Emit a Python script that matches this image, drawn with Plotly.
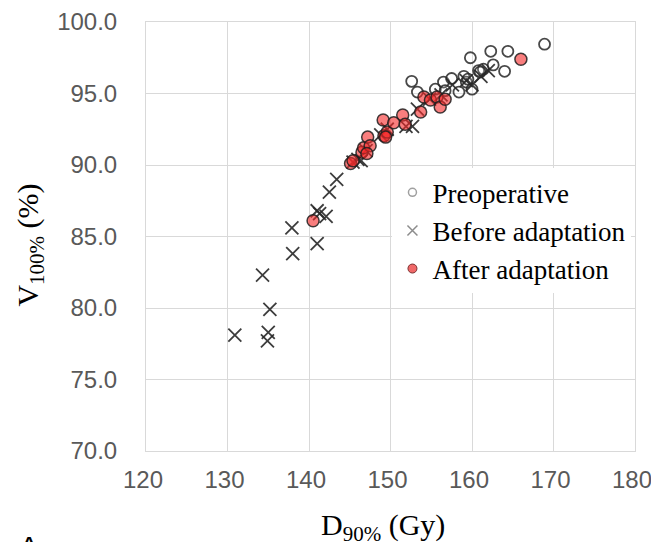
import plotly.graph_objects as go

# Preoperative
pre_x = [152.6, 153.3, 155.5, 156.5, 157.5, 158.4, 159.0, 159.3, 160.0, 159.8,
         160.8, 161.4, 162.3, 162.6, 164.0, 164.4, 168.9, 156.7, 159.5, 161.0]
pre_y = [95.85, 95.1, 95.3, 95.8, 96.05, 95.1, 96.2, 95.8, 95.3, 97.5,
         96.6, 96.7, 97.95, 97.0, 96.55, 97.95, 98.45, 95.2, 96.0, 96.5]

# Before adaptation
bef_x = [130.9, 135.0, 134.9, 135.2, 134.3, 138.0, 137.9, 141.0, 141.0, 141.3,
         142.1, 142.5, 143.4, 145.4, 146.0, 146.4, 147.0, 148.8, 149.6, 151.9,
         152.7, 153.3, 154.8, 156.2, 157.6, 159.3, 160.0, 161.1, 162.0]
bef_y = [78.1, 78.3, 77.7, 79.9, 82.3, 83.8, 85.6, 84.5, 86.8, 86.6,
         86.4, 88.1, 89.0, 90.2, 90.4, 90.3, 91.0, 92.1, 92.5, 92.7,
         92.7, 93.9, 94.6, 94.9, 95.6, 95.9, 95.6, 96.2, 96.6]

# After adaptation
aft_x = [140.5, 145.1, 145.4, 146.5, 146.7, 147.2, 147.5, 147.1, 149.1, 149.2,
         149.6, 150.4, 151.5, 151.8, 153.7, 154.1, 154.9, 155.7, 156.1, 156.7,
         166.0, 149.4]
aft_y = [86.1, 90.1, 90.3, 90.9, 91.2, 91.95, 91.35, 90.8, 93.15, 92.05,
         92.3, 92.95, 93.5, 92.85, 93.7, 94.75, 94.55, 94.75, 94.05, 94.6,
         97.4, 91.95]

x_ticks = [120, 130, 140, 150, 160, 170, 180]
y_ticks = [70, 75, 80, 85, 90, 95, 100]

names = ["Preoperative", "Before adaptation", "After adaptation"]

fig = go.Figure()

fig.add_trace(go.Scatter(
    x=pre_x, y=pre_y, mode="markers", name=names[0], showlegend=False,
    marker=dict(symbol="circle", size=11, color="rgba(255,255,255,0.15)",
                line=dict(color="rgba(40,40,40,0.85)", width=1.8))))
fig.add_trace(go.Scatter(
    x=bef_x, y=bef_y, mode="markers", name=names[1], showlegend=False,
    marker=dict(symbol="x-thin-open", size=13, color="rgba(40,40,40,0.9)",
                line=dict(color="rgba(40,40,40,0.9)", width=1.8))))
fig.add_trace(go.Scatter(
    x=aft_x, y=aft_y, mode="markers", name=names[2], showlegend=False,
    marker=dict(symbol="circle", size=12, color="rgba(245,40,40,0.6)",
                line=dict(color="rgba(30,30,30,0.85)", width=1.5))))

# legend entries (styled like the reference legend)
fig.add_trace(go.Scatter(
    x=[None], y=[None], mode="markers", name=names[0],
    marker=dict(symbol="circle", size=8, color="white",
                line=dict(color="#a0a0a0", width=1.5))))
fig.add_trace(go.Scatter(
    x=[None], y=[None], mode="markers", name=names[1],
    marker=dict(symbol="x-thin-open", size=10, color="#8c8c8c",
                line=dict(color="#8c8c8c", width=1.5))))
fig.add_trace(go.Scatter(
    x=[None], y=[None], mode="markers", name=names[2],
    marker=dict(symbol="circle", size=9, color="#f06868",
                line=dict(color="#7a3030", width=1))))

grid = "#d9d9d9"
tickfont = dict(family="Liberation Sans, Arial, sans-serif", size=24, color="#595959")

fig.update_layout(
    width=651, height=542,
    margin=dict(l=146, r=16, t=22, b=91),
    paper_bgcolor="white", plot_bgcolor="white",
    xaxis=dict(range=[120, 180], tickvals=x_ticks, ticktext=[str(v) for v in x_ticks],
               showgrid=True, gridcolor=grid, gridwidth=1, zeroline=False,
               showline=True, linecolor=grid, linewidth=1, mirror=True,
               automargin=False, ticklabeloverflow="allow",
               ticks="", tickfont=tickfont, ticklabelstandoff=7, ticklabelshift=-3),
    yaxis=dict(range=[70, 100], tickvals=y_ticks, ticktext=[f"{v:.1f}" for v in y_ticks],
               showgrid=True, gridcolor=grid, gridwidth=1, zeroline=False,
               showline=True, linecolor=grid, linewidth=1, mirror=True,
               automargin=False, ticklabeloverflow="allow",
               ticks="", tickfont=tickfont, ticklabelstandoff=23),
    legend=dict(x=0.504, y=0.659, xanchor="left", yanchor="top",
                bgcolor="white", borderwidth=0,
                font=dict(family="Liberation Serif, Times New Roman, serif", size=27, color="black"),
                itemsizing="trace"),
    showlegend=True,
)

titlefont = dict(family="Liberation Serif, Times New Roman, serif", size=30, color="black")
fig.add_annotation(text="D<sub>90%</sub> (Gy)", xref="paper", yref="paper",
                   x=0.4843, y=-0.178, xanchor="center", yanchor="middle",
                   showarrow=False, font=titlefont)
fig.add_annotation(text="V<sub>100%</sub> (%)", xref="paper", yref="paper",
                   x=-0.2366, y=0.4795, xanchor="center", yanchor="middle",
                   textangle=-90, showarrow=False, font=titlefont)
fig.add_annotation(text="A", xref="paper", yref="paper",
                   x=-0.24, y=-0.180, xanchor="center", yanchor="top",
                   showarrow=False,
                   font=dict(family="Liberation Sans, Arial, sans-serif", size=30, color="black"))

fig.write_html("out.html",
               config={"displayModeBar": False},
               post_script="document.body.style.margin='0';"
                           "document.body.style.overflow='hidden';")
